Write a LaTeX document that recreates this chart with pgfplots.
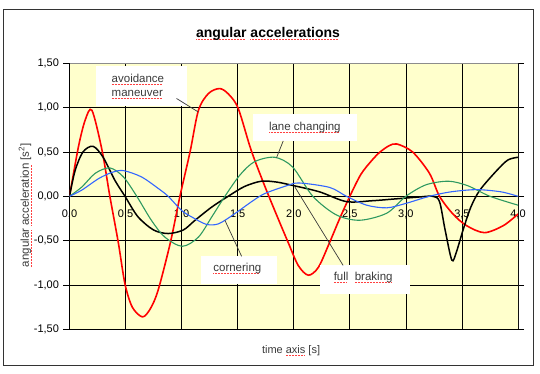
\documentclass[border=0pt]{standalone}
\usepackage{pgfplots}
\pgfplotsset{compat=1.18}
\usepackage{fontspec}
\setmainfont{Liberation Sans}
\definecolor{bgyellow}{HTML}{FFFFCC}
\definecolor{cgreen}{HTML}{2E9960}
\definecolor{cblue}{HTML}{3366FF}
\definecolor{lbl}{HTML}{3A3A3A}
\newsavebox\splbox
\newcommand\spl[1]{\leavevmode\sbox\splbox{#1}\rlap{\hbox to \wd\splbox{\color{red!75}\leaders\hbox{\rule[-2.4pt]{0.9pt}{0.6pt}\hskip0.6pt}\hfill}}\usebox\splbox}
\begin{document}
\begin{tikzpicture}[x=1pt,y=1pt]
\useasboundingbox (0,0) rectangle (540,374);
\draw[line width=0.9pt, draw=black!80] (3.3,9) rectangle (533,365);
\begin{axis}[at={(69.5pt,44.7pt)}, anchor=south west, scale only axis,
  width=448.5pt, height=266pt,
  xmin=0, xmax=4, ymin=-1.5, ymax=1.5,
  xtick={0,0.5,1,1.5,2,2.5,3,3.5,4},
  xticklabels={{0,0},{0,5},{1,0},{1,5},{2,0},{2,5},{3,0},{3,5},{4,0}},
  ytick={-1.5,-1,-0.5,0,0.5,1,1.5},
  yticklabels={{-1,50},{-1,00},{-0,50},{0,00},{0,50},{1,00},{1,50}},
  axis line style={draw=none},
  grid=major, major grid style={black, line width=0.7pt},
  axis background/.style={fill=bgyellow},
  tick align=outside, major tick length=6pt,
  ytick style={black, line width=0.7pt},
  xtick style={draw=none},
  ticklabel style={font=\fontsize{11}{13}\selectfont, text=black},
  xticklabel style={anchor=center, yshift=121pt},
  yticklabel style={xshift=-1pt},
  title={\bfseries \spl{angular} \spl{accelerations}},
  every axis title/.style={at={(rel axis cs:0.4426,1.110)}, anchor=center, font=\fontsize{14}{16}\selectfont},
  xlabel={time \spl{axis} [s]},
  ylabel={\spl{angular} \spl{acceleration} [s\textsuperscript{2}]},
  every axis x label/.style={at={(rel axis cs:0.494,-0.0805)}, anchor=center, font=\fontsize{11}{13}\selectfont, text=lbl},
  every axis y label/.style={at={(rel axis cs:-0.0992,0.467)}, rotate=90, anchor=center, font=\fontsize{11.5}{13}\selectfont, text=lbl},
]
% avoidance maneuver (red)
\addplot[red, line width=1.6pt, smooth] coordinates {
(0,0) (0.08,0.56) (0.14,0.86) (0.2,0.97) (0.29,0.52) (0.36,0.0) (0.435,-0.52)
(0.495,-0.99) (0.56,-1.25) (0.65,-1.36) (0.72,-1.27) (0.79,-1.06) (0.9,-0.52)
(0.985,0.0) (1.075,0.50) (1.15,0.97) (1.24,1.16) (1.34,1.215) (1.42,1.15)
(1.505,0.99) (1.62,0.52) (1.74,0.12) (1.85,-0.22) (1.95,-0.52) (2.04,-0.78)
(2.13,-0.89) (2.22,-0.80) (2.32,-0.52) (2.41,-0.25) (2.5,0.0) (2.6,0.25)
(2.7,0.41) (2.77,0.50) (2.85,0.57) (2.92,0.59) (3.06,0.50) (3.21,0.26)
(3.3,0.0) (3.42,-0.20) (3.54,-0.33) (3.70,-0.41) (3.87,-0.33) (4.0,-0.20)};
% full braking (black)
\addplot[black, line width=1.5pt, smooth] coordinates {
(0,0) (0.05,0.29) (0.12,0.50) (0.21,0.564) (0.30,0.44) (0.405,0.18) (0.495,0)
(0.61,-0.23) (0.75,-0.38) (0.88,-0.42) (1.015,-0.38) (1.12,-0.27) (1.27,-0.12)
(1.415,0) (1.56,0.11) (1.71,0.17) (1.85,0.16) (2.0,0.12) (2.23,0.05)
(2.47,-0.06) (2.7,-0.05) (2.9,-0.03) (3.1,-0.01) (3.24,0.0) (3.30,-0.06)
(3.35,-0.38) (3.41,-0.72) (3.45,-0.63) (3.51,-0.38) (3.58,-0.12) (3.66,0.07)
(3.81,0.29) (3.91,0.41) (4.0,0.44)};
% lane changing (green)
\addplot[cgreen, line width=1.1pt, smooth] coordinates {
(0,0) (0.11,0.105) (0.23,0.26) (0.36,0.32) (0.48,0.22) (0.60,0) (0.73,-0.27)
(0.85,-0.46) (1.006,-0.564) (1.15,-0.46) (1.27,-0.23) (1.386,0) (1.52,0.24)
(1.65,0.39) (1.83,0.44) (1.99,0.33) (2.17,0) (2.38,-0.21) (2.59,-0.27)
(2.83,-0.19) (3.0,0) (3.18,0.13) (3.38,0.17) (3.55,0.12) (3.75,0) (4.0,-0.10)};
% cornering (blue)
\addplot[cblue, line width=1.1pt, smooth] coordinates {
(0,0) (0.11,0.07) (0.26,0.20) (0.38,0.27) (0.48,0.29) (0.64,0.22) (0.79,0.09)
(0.88,0.0) (1.0,-0.16) (1.1,-0.24) (1.22,-0.316) (1.33,-0.31) (1.475,-0.195)
(1.62,-0.064) (1.74,0.03) (1.94,0.12) (2.05,0.15) (2.32,0.10) (2.47,0)
(2.65,-0.10) (2.83,-0.13) (3.0,-0.08) (3.21,0) (3.4,0.05) (3.63,0.075)
(3.85,0.05) (4.0,0.0)};
% plot frame top/right
\draw[black!45, line width=1pt] (rel axis cs:0,1) -- (rel axis cs:1,1) -- (rel axis cs:1,0);
% annotations
\fill[white] (axis cs:0.236,1.016) rectangle (axis cs:1.045,1.467);
\node[anchor=west, align=left, font=\fontsize{11.5}{14}\selectfont, text=lbl] at (axis cs:0.345,1.24) {\spl{avoidance}\\\spl{maneuver}};
\draw[lbl, line width=0.7pt] (axis cs:0.955,1.103) -- (axis cs:1.148,0.951);
\fill[white] (axis cs:1.638,0.624) rectangle (axis cs:2.560,0.933);
\node[font=\fontsize{11.5}{13}\selectfont, text=lbl] at (axis cs:2.099,0.779) {\spl{lane changing}};
\draw[lbl, line width=0.7pt] (axis cs:1.906,0.624) -- (axis cs:1.847,0.437);
\fill[white] (axis cs:1.169,-0.677) rectangle (axis cs:1.847,-0.993);
\node[font=\fontsize{11.5}{13}\selectfont, text=lbl] at (axis cs:1.497,-0.816) {\spl{cornering}};
\draw[lbl, line width=0.7pt] (axis cs:1.535,-0.677) -- (axis cs:1.386,-0.271);
\fill[white] (axis cs:2.233,-0.779) rectangle (axis cs:3.041,-1.098);
\node[font=\fontsize{11.5}{13}\selectfont, text=lbl] at (axis cs:2.619,-0.918) {\spl{full}\ \ \spl{braking}};
\draw[lbl, line width=0.7pt] (axis cs:2.01,0.105) -- (axis cs:2.440,-0.779);
\end{axis}
\end{tikzpicture}
\end{document}
